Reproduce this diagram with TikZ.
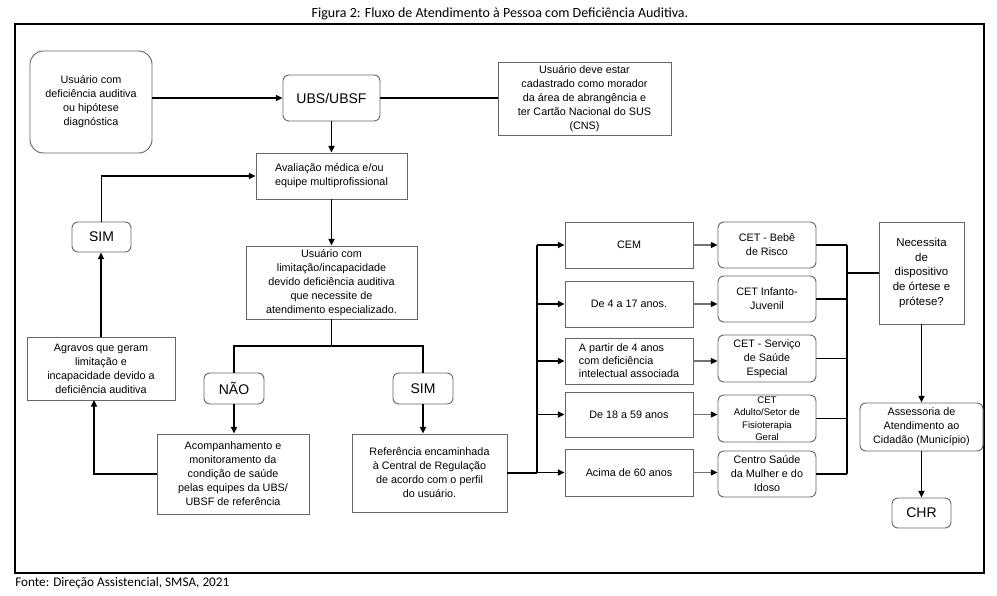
\documentclass[tikz,border=0pt]{standalone}
\usepackage{fontspec}
\setsansfont{Liberation Sans}
\newfontfamily\capfont{Carlito}
\usetikzlibrary{arrows.meta}

\tikzset{
  box/.style={draw=black!60, line width=0.7pt, fill=white, align=center, inner sep=1pt,
    font=\sffamily\fontsize{8.1}{10.5}\selectfont},
  rbox/.style={box, rounded corners=4.5pt},
  big/.style={font=\sffamily\fontsize{10.5}{12}\selectfont},
  sz/.style 2 args={minimum width=#1*0.75pt, minimum height=#2*0.75pt},
  link/.style={line width=1.4pt},
  flow/.style={link, -{Triangle[length=5pt,width=4.5pt]}},
  gflow/.style={draw=black!55, line width=0.8pt, -{Triangle[length=5pt,width=4.5pt,color=black]}}
}

\begin{document}
\begin{tikzpicture}[x=0.75pt,y=-0.75pt]
    % Page, caption and frame
    \useasboundingbox (0,0) rectangle (997,596);
    \node[font=\capfont\fontsize{10.5}{12}\selectfont] (title) at (500,14) {Figura 2: Fluxo de Atendimento à Pessoa com Deficiência Auditiva.};
    \draw[line width=2pt] (15,24) rectangle (984,573);
    \node[anchor=west, inner sep=0pt, font=\capfont\fontsize{9.9}{11}\selectfont] (fonte) at (15,583) {Fonte: Direção Assistencial, SMSA, 2021};

    % Entry row
    \node[rbox, rounded corners=10pt, sz={122}{102}] (usr) at (91,102) {Usuário com\\deficiência auditiva\\ou hipótese\\diagnóstica};
    \node[rbox, big, sz={97}{46}] (ubs) at (331.5,98) {UBS/UBSF};
    \node[box, sz={173}{73}, inner sep=0pt] (cad) at (584.5,98.5) {Usuário deve estar\\cadastrado como morador\\da área de abrangência e\\ter Cartão Nacional do SUS\\(CNS)};

    % Central column
    \node[box, align=left, sz={151}{46}] (ava) at (331.5,176) {Avaliação médica e/ou\\equipe multiprofissional};
    \node[box, sz={171}{73}, inner sep=0pt] (lim) at (331.5,282.5) {Usuário com\\limitação/incapacidade\\devido deficiência auditiva\\que necessite de\\atendimento especializado.};
    \node[rbox, big, sz={60}{31}] (nao) at (234,388.5) {NÃO};
    \node[rbox, big, sz={60}{31}] (sim2) at (423,388.5) {SIM};
    \node[box, sz={152}{80}] (acp) at (233,474) {Acompanhamento e\\monitoramento da\\condição de saúde\\pelas equipes da UBS/\\UBSF de referência};
    \node[box, sz={155}{78}] (ref) at (429.5,473) {Referência encaminhada\\à Central de Regulação\\de acordo com o perfil\\do usuário.};

    % Left loop
    \node[rbox, big, sz={59}{30}] (sim1) at (101.5,237) {SIM};
    \node[box, sz={148}{63}] (agr) at (101,368.5) {Agravos que geram\\limitação e\\incapacidade devido a\\deficiência auditiva};

    % Profiles
    \node[box, sz={128}{46}] (cem) at (629,245) {CEM};
    \node[box, sz={128}{46}] (a417) at (629,304) {De 4 a 17 anos.};
    \node[box, align=left, sz={128}{46}, font=\sffamily\fontsize{8.1}{9.8}\selectfont] (a4i) at (629,361) {A partir de 4 anos\\com deficiência\\intelectual associada};
    \node[box, sz={128}{45}] (a1859) at (629,414.5) {De 18 a 59 anos};
    \node[box, sz={128}{47}] (a60) at (629,472.5) {Acima de 60 anos};

    % Services
    \node[rbox, sz={98}{46}] (cet1) at (767,245) {CET - Bebê\\de Risco};
    \node[rbox, sz={98}{46}] (cet2) at (767,299) {CET Infanto-\\Juvenil};
    \node[rbox, sz={98}{47}] (cet3) at (767,358.5) {CET - Serviço\\de Saúde\\Especial};
    \node[rbox, sz={98}{47}, inner sep=0pt, font=\sffamily\fontsize{7.2}{9.4}\selectfont] (cet4) at (767,418.5) {CET\\Adulto/Setor de\\Fisioterapia\\Geral};
    \node[rbox, sz={98}{46}] (cet5) at (767,474) {Centro Saúde\\da Mulher e do\\Idoso};

    % Devices
    \node[box, sz={85}{102}, font=\sffamily\fontsize{8.6}{10.9}\selectfont] (nec) at (921.5,273) {Necessita\\de\\dispositivo\\de órtese e\\prótese?};
    \node[rbox, sz={123}{48}] (ass) at (921.5,427) {Assessoria de\\Atendimento ao\\Cidadão (Município)};
    \node[rbox, big, sz={59}{30}] (chr) at (921.5,513) {CHR};

    % Junction points
    \coordinate (split) at (331.5,346);
    \coordinate (agrin) at (94,400);
    \coordinate (busL) at (537,245);
    \coordinate (busR) at (847,245);

    % Connectors
    \draw[flow] (usr.east |- ubs.west) -- (ubs.west);
    \draw[link] (ubs.east) -- (ubs.east -| cad.west);
    \draw[flow] (ubs) -- (ava);
    \draw[flow] (ava) -- (lim);
    \draw[link] (lim.south) -- (split);
    \draw[link] (nao.north) |- (split) -| (sim2.north);
    \draw[flow] (nao.south) -- (nao.south |- acp.north);
    \draw[flow] (sim2.south) -- (sim2.south |- ref.north);
    \draw[flow] (acp.west) -| (agrin);
    \draw[flow] (agr.north) -- (agr.north |- sim1.south);
    \draw[flow] (sim1.north) |- (ava.west);

    \draw[link] (ref.east) -- (busL |- ref.east);
    \draw[link] (busL |- cem.west) -- (busL |- a60.west);
    \foreach \b in {cem,a417,a4i,a1859,a60}
        \draw[flow] (busL |- \b.west) -- (\b.west);
    \foreach \a/\b in {cem/cet1,a417/cet2,a4i/cet3,a1859/cet4,a60/cet5}
        \draw[gflow] (\a.east) -- (\a.east -| \b.west);

    \foreach \b in {cet1,cet2,cet3,cet4,cet5}
        \draw[link] (\b.east) -- (busR |- \b.east);
    \draw[link] (busR |- cet1.east) -- (busR |- cet5.east);
    \draw[link] (busR |- nec.west) -- (nec.west);
    \draw[flow] (nec) -- (ass);
    \draw[flow] (ass) -- (chr);
\end{tikzpicture}
\end{document}
